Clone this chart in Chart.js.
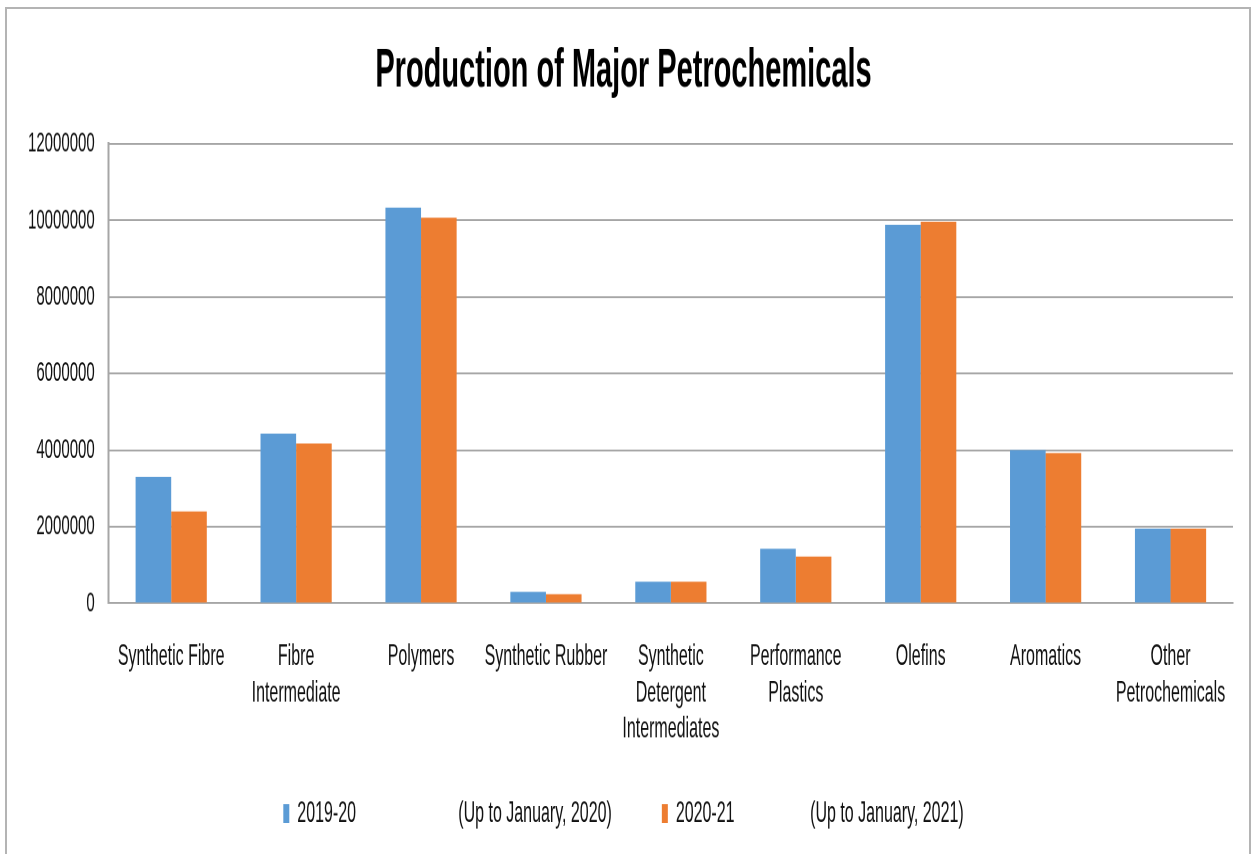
<!DOCTYPE html>
<html>
<head>
<meta charset="utf-8">
<script src="https://cdn.jsdelivr.net/npm/chart.js@4"></script>
<style>
  html, body { margin: 0; padding: 0; background: #fff; }
  body { width: 1253px; height: 854px; position: relative; overflow: hidden; }
  /* the source image is squeezed sideways, so draw short and stretch it tall */
  #wrap { position: absolute; left: 0; top: 0; width: 1253px; height: 454px;
          transform: scaleY(1.881); transform-origin: 0 0; }
  #frame { position: absolute; left: 5px; top: 7px; width: 1246px; height: 860px;
           border: 2px solid #b4b4b4; box-sizing: border-box; }
</style>
</head>
<body>
<div id="wrap"><canvas id="petroChart"></canvas></div>
<div id="frame"></div>
<script>
const categories = [
    ["Synthetic Fibre"],
    ["Fibre", "Intermediate"],
    ["Polymers"],
    ["Synthetic Rubber"],
    ["Synthetic", "Detergent", "Intermediates"],
    ["Performance", "Plastics"],
    ["Olefins"],
    ["Aromatics"],
    ["Other", "Petrochemicals"]
];
const prod2019 = [3300000, 4430000, 10330000, 300000, 560000, 1420000, 9880000, 4000000, 1950000];
const prod2020 = [2400000, 4170000, 10070000, 240000, 560000, 1220000, 9960000, 3920000, 1950000];
const seriesLabels = [
    "2019-20                       (Up to January, 2020)         ",
    "2020-21                 (Up to January, 2021)"
];
const yTicks = [0, 2000000, 4000000, 6000000, 8000000, 10000000, 12000000];

const fontFamily = "'Liberation Sans', Arial, sans-serif";
const textColor = "#111";

document.addEventListener("DOMContentLoaded", () => {
    const ctx = document.getElementById("petroChart");
    new Chart(ctx.getContext("2d"), {
        type: "bar",
        data: {
            labels: categories,
            datasets: [
                {
                    label: seriesLabels[0],
                    data: prod2019,
                    backgroundColor: "#5B9BD5",
                    borderWidth: 0,
                },
                {
                    label: seriesLabels[1],
                    data: prod2020,
                    backgroundColor: "#ED7D31",
                    borderWidth: 0,
                },
            ],
        },
        options: {
            responsive: true,
            maintainAspectRatio: false,
            devicePixelRatio: 2,
            animation: false,
            layout: { padding: { left: 14, right: 20, top: 0, bottom: 3.5 } },
            datasets: { bar: { categoryPercentage: 0.57, barPercentage: 1 } },
            plugins: {
                title: {
                    display: true,
                    text: "Production of Major Petrochemicals",
                    color: "#000",
                    font: { family: fontFamily, size: 29, weight: "bold" },
                    padding: { top: 20.6, bottom: 21 },
                },
                legend: {
                    position: "bottom",
                    labels: {
                        color: textColor,
                        font: { family: fontFamily, size: 16 },
                        boxWidth: 6,
                        boxHeight: 10,
                        padding: 10,
                    },
                },
                tooltip: { enabled: false },
            },
            scales: {
                x: {
                    grid: { display: false, drawTicks: false },
                    border: { display: true, color: "#a6a6a6", width: 1 },
                    afterFit: (axis) => {
                        axis.height -= 1.8;
                    },
                    ticks: {
                        color: textColor,
                        font: { family: fontFamily, size: 16 },
                        padding: 19,
                        maxRotation: 0,
                        autoSkip: false,
                    },
                },
                y: {
                    min: 0,
                    max: 12000000,
                    afterBuildTicks: (axis) => {
                        axis.ticks = yTicks.map((v) => ({ value: v }));
                    },
                    grid: { color: "#a6a6a6", lineWidth: 1, drawTicks: false },
                    border: { display: true, color: "#a6a6a6", width: 2 },
                    ticks: {
                        color: textColor,
                        font: { family: fontFamily, size: 15 },
                        padding: 14,
                        callback: (v) => String(v),
                    },
                },
            },
        },
    });
});
</script>
</body>
</html>
